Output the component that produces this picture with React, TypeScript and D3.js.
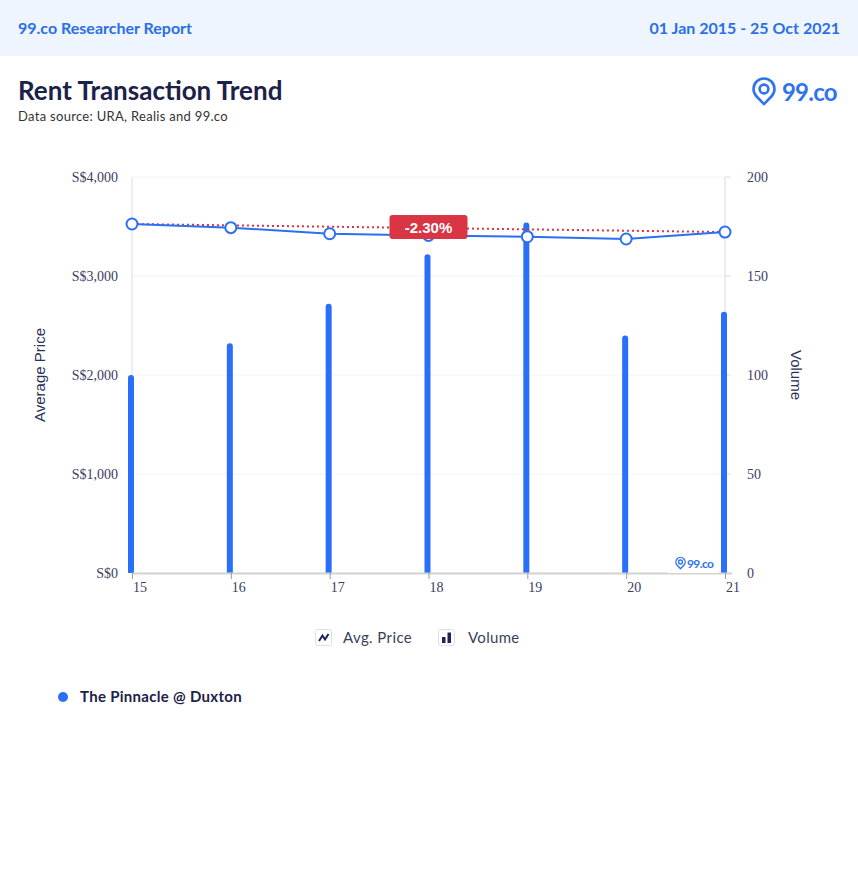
import React from "react";
import * as d3 from "d3";

const years = ["15", "16", "17", "18", "19", "20", "21"];
const avgPrice = [3525, 3488, 3427, 3410, 3397, 3374, 3444];
const volume = [100, 116, 136, 161, 177, 120, 132];
const priceTicks = [0, 1000, 2000, 3000, 4000];
const volumeTicks = [0, 50, 100, 150, 200];
const changeLabel = "-2.30%";

const W = 858;
const H = 880;
const left = 132;
const right = 725;
const top = 177;
const bottom = 573;

const BLUE = "#2b6ff2";
const NAVY = "#1c2148";
const AXIS = "#3b4063";

function Pin({ cx, cy, r, sw, color }: { cx: number; cy: number; r: number; sw: number; color: string }) {
  const d = r * 1.45;
  const phi = Math.acos(r / d);
  const px = r * Math.sin(phi);
  const py = r * Math.cos(phi);
  const p = `M ${cx} ${cy + d} L ${cx - px} ${cy + py} A ${r} ${r} 0 1 1 ${cx + px} ${cy + py} Z`;
  return (
    <g>
      <path d={p} fill="none" stroke={color} strokeWidth={sw} strokeLinejoin="round" />
      <circle cx={cx} cy={cy} r={r * 0.42} fill="none" stroke={color} strokeWidth={sw} />
    </g>
  );
}

export default function App() {
  const x = d3.scalePoint<string>().domain(years).range([left, right]);
  const yL = d3.scaleLinear().domain([0, 4000]).range([bottom, top]);
  const yR = d3.scaleLinear().domain([0, 200]).range([bottom, top]);

  const line = d3
    .line<number>()
    .x((_, i) => x(years[i]) as number)
    .y((d) => yL(d));

  const first = avgPrice[0];
  const last = avgPrice[avgPrice.length - 1];
  const x0 = x(years[0]) as number;
  const x1 = x(years[years.length - 1]) as number;

  const labelX = x(years[3]) as number;
  const labelY = yL(first + (last - first) * 0.5);

  const barW = 6;
  const barPath = (cx: number, y: number) => {
    const l = cx - barW / 2;
    const r = cx + barW / 2;
    const rr = 3;
    return `M ${l} ${bottom} L ${l} ${y + rr} A ${rr} ${rr} 0 0 1 ${r} ${y + rr} L ${r} ${bottom} Z`;
  };

  return (
    <svg
      width={W}
      height={H}
      style={{ position: "absolute", left: 0, top: 0, display: "block", background: "#fff" }}
    >
      {/* header */}
      <rect x={0} y={0} width={W} height={56} fill="#eef5fe" />
      <text x={18} y={34} fontFamily="Lato" fontWeight={700} fontSize={16} fill="#2b6fe6">
        99.co Researcher Report
      </text>
      <text x={840} y={34} textAnchor="end" fontFamily="Lato" fontWeight={700} fontSize={16} fill="#2b6fe6">
        01 Jan 2015 - 25 Oct 2021
      </text>

      {/* title */}
      <text x={18} y={100} fontFamily="Lato" fontWeight={700} fontSize={26} fill={NAVY}>
        Rent Transaction Trend
      </text>
      <text x={18} y={121} fontFamily="Lato" fontSize={13} fill="#333" letterSpacing={0.3}>
        Data source: URA, Realis and 99.co
      </text>

      {/* logo */}
      <Pin cx={764} cy={89} r={10.5} sw={2.6} color="#2f74ec" />
      <text x={782} y={101} fontFamily="Lato" fontWeight={700} fontSize={24} fill="#2f74ec" letterSpacing={-0.8}>
        99.co
      </text>

      {/* gridlines */}
      {priceTicks.map((t) => (
        <line key={"g" + t} x1={left} x2={right} y1={yL(t)} y2={yL(t)} stroke="#f4f4f4" strokeWidth={1} />
      ))}

      {/* axes lines */}
      <line x1={left} x2={left} y1={top} y2={bottom} stroke="#dcdcdc" strokeWidth={1} />
      <line x1={right} x2={right} y1={top} y2={bottom} stroke="#dcdcdc" strokeWidth={1} />
      {volumeTicks.map((t) => (
        <line key={"rt" + t} x1={right} x2={right + 6} y1={yR(t)} y2={yR(t)} stroke="#dcdcdc" strokeWidth={1} />
      ))}

      {/* bars */}
      {volume.map((v, i) => (
        <path key={"b" + i} d={barPath((x(years[i]) as number) - 1, yR(v))} fill="#2a6ffa" />
      ))}

      {/* baseline */}
      <line x1={left} x2={right + 7} y1={bottom + 0.5} y2={bottom + 0.5} stroke="#d3d3d3" strokeWidth={2} />
      {years.map((yr) => (
        <line
          key={"xt" + yr}
          x1={(x(yr) as number) + 0.5}
          x2={(x(yr) as number) + 0.5}
          y1={bottom}
          y2={bottom + 6}
          stroke="#9a9a9a"
          strokeWidth={1}
        />
      ))}

      {/* watermark */}
      <rect x={668} y={554} width={50} height={19} fill="#fff" />
      <Pin cx={680.5} cy={562} r={4.6} sw={1.4} color="#2f74ec" />
      <text x={687} y={568} fontFamily="Lato" fontWeight={700} fontSize={12} fill="#2f74ec" letterSpacing={-0.6}>
        99.co
      </text>

      {/* trend line */}
      <line
        x1={x0}
        y1={yL(first)}
        x2={x1}
        y2={yL(last)}
        stroke="#e0313f"
        strokeWidth={2}
        strokeDasharray="2,3"
      />

      {/* price line */}
      <path d={line(avgPrice) as string} fill="none" stroke={BLUE} strokeWidth={2} />
      {avgPrice.map((p, i) => (
        <circle key={"c" + i} cx={x(years[i]) as number} cy={yL(p)} r={5.5} fill="#fff" stroke={BLUE} strokeWidth={2} />
      ))}

      {/* change label */}
      <rect x={labelX - 39} y={labelY - 13} width={78} height={24} rx={3} fill="#d93545" />
      <text
        x={labelX}
        y={labelY + 5}
        textAnchor="middle"
        fontFamily="Liberation Sans"
        fontWeight={700}
        fontSize={15}
        fill="#fff"
      >
        {changeLabel}
      </text>

      {/* left tick labels */}
      {priceTicks.map((t) => (
        <text
          key={"lt" + t}
          x={118}
          y={yL(t) + 5}
          textAnchor="end"
          fontFamily="Liberation Serif"
          fontSize={14}
          fill={AXIS}
        >
          {"S$" + d3.format(",")(t)}
        </text>
      ))}
      {/* right tick labels */}
      {volumeTicks.map((t) => (
        <text key={"rl" + t} x={747} y={yR(t) + 5} fontFamily="Liberation Serif" fontSize={14} fill={AXIS}>
          {t}
        </text>
      ))}
      {/* x tick labels */}
      {years.map((yr) => (
        <text key={"xl" + yr} x={(x(yr) as number) + 1} y={592} fontFamily="Liberation Serif" fontSize={14} fill={AXIS}>
          {yr}
        </text>
      ))}

      {/* axis titles */}
      <text
        transform={`translate(45, ${(top + bottom) / 2}) rotate(-90)`}
        textAnchor="middle"
        fontFamily="Liberation Sans"
        fontSize={15}
        fill="#2a3158"
      >
        Average Price
      </text>
      <text
        transform={`translate(791, ${(top + bottom) / 2}) rotate(90)`}
        textAnchor="middle"
        fontFamily="Liberation Sans"
        fontSize={15}
        fill="#2a3158"
      >
        Volume
      </text>

      {/* legend */}
      <g>
        <rect x={315.5} y={629.5} width={16} height={16} rx={2} fill="#fff" stroke="#dde0e8" />
        <path d="M 319 641 L 322.5 635.5 L 325 639.5 L 328.5 634" fill="none" stroke="#1e2455" strokeWidth={2} />
        <text x={343} y={643} fontFamily="Lato" fontSize={15} fill="#3a3f5c" letterSpacing={0.4}>
          Avg. Price
        </text>
        <rect x={438.5} y={629.5} width={16} height={16} rx={2} fill="#fff" stroke="#dde0e8" />
        <rect x={442} y={637} width={3.5} height={6} fill="#1e2455" />
        <rect x={447.5} y={632.5} width={3.5} height={10.5} fill="#1e2455" />
        <text x={468} y={643} fontFamily="Lato" fontSize={15} fill="#3a3f5c" letterSpacing={0.3}>
          Volume
        </text>
      </g>

      {/* series legend */}
      <circle cx={63} cy={697} r={5} fill="#2a6ffa" />
      <text x={80} y={702} fontFamily="Lato" fontWeight={700} fontSize={15} fill={NAVY} letterSpacing={0.3}>
        The Pinnacle @ Duxton
      </text>
    </svg>
  );
}
